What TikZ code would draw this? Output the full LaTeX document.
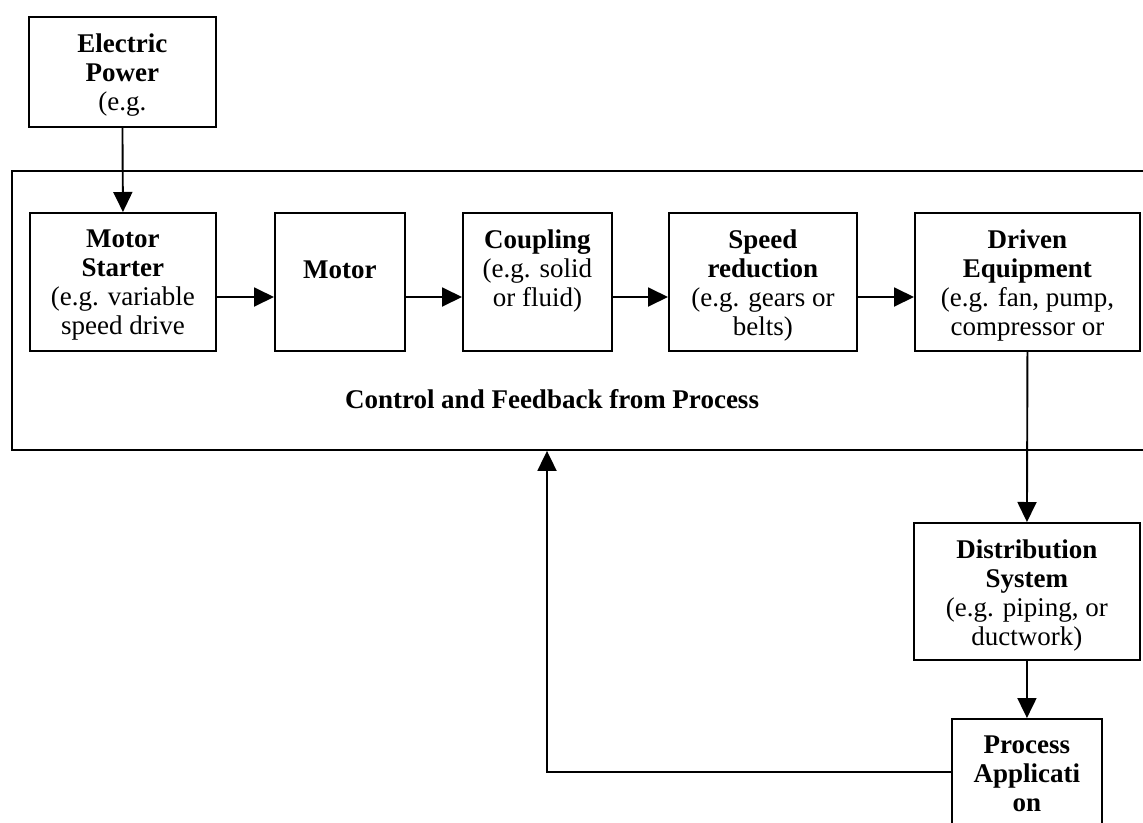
\documentclass[tikz,border=0pt]{standalone}
\usepackage{fontspec}
\setmainfont{Liberation Serif}
\usetikzlibrary{arrows.meta,calc}
\begin{document}
\begin{tikzpicture}[x=1pt,y=-1pt,
  box/.style={draw, line width=1.9pt, inner sep=0pt, anchor=north west},
  lbl/.style={align=center, inner sep=0pt, anchor=north, font=\fontsize{27}{29}\selectfont},
  arr/.style={line width=1.9pt, -{Triangle[length=20pt,width=19pt]}},
  ln/.style={line width=1.9pt}]
\useasboundingbox[fill=white] (0,0) rectangle (1143,822);
\clip (0,0) rectangle (1143,822);
% outer frame (open at right)
\node[box, minimum width=1200pt, minimum height=279pt] (frame) at (11,170) {};
% boxes
\node[box, minimum width=187pt, minimum height=110pt] (ep) at (28,16) {};
\node[box, minimum width=186pt, minimum height=138pt] (ms) at (29,212) {};
\node[box, minimum width=130pt, minimum height=138pt] (mo) at (274,212) {};
\node[box, minimum width=149pt, minimum height=138pt] (co) at (462,212) {};
\node[box, minimum width=188pt, minimum height=138pt] (sr) at (668,212) {};
\node[box, minimum width=225pt, minimum height=138pt] (de) at (914,212) {};
\node[box, minimum width=226pt, minimum height=137pt] (ds) at (913,522) {};
\node[box, minimum width=150pt, minimum height=200pt] (pa) at (951,718) {};
% labels
\node[lbl] (eptxt) at ($(ep.north)+(0,18)$) {\textbf{Electric}\\\textbf{Power}\\(e.g.};
\node[lbl] (mstxt) at ($(ms.north)+(0,18)$) {\textbf{Motor}\\\textbf{Starter}\\(e.g. variable\\speed drive};
\node[lbl] (motxt) at ($(mo.north)+(0,49)$) {\textbf{Motor}};
\node[lbl] (cotxt) at ($(co.north)+(0,18)$) {\textbf{Coupling}\\(e.g. solid\\or fluid)};
\node[lbl] (srtxt) at ($(sr.north)+(0,18)$) {\textbf{Speed}\\\textbf{reduction}\\(e.g. gears or\\belts)};
\node[lbl] (detxt) at ($(de.north)+(0,18)$) {\textbf{Driven}\\\textbf{Equipment}\\(e.g. fan, pump,\\compressor or};
\node[lbl] (dstxt) at ($(ds.north)+(0,18)$) {\textbf{Distribution}\\\textbf{System}\\(e.g. piping, or\\ductwork)};
\node[lbl] (patxt) at ($(pa.north)+(0,18)$) {\textbf{Process}\\\textbf{Applicati}\\\textbf{on}};
\node[lbl, anchor=base] (cf) at (552,408) {\textbf{Control and Feedback from Process}};
% connectors
\coordinate (yrow) at (0,297);
\draw[arr] (ep.south) -- (ms.north);
\draw[arr] (ms.east |- yrow) -- (mo.west |- yrow);
\draw[arr] (mo.east |- yrow) -- (co.west |- yrow);
\draw[arr] (co.east |- yrow) -- (sr.west |- yrow);
\draw[arr] (sr.east |- yrow) -- (de.west |- yrow);
\draw[arr] (de.south) -- (ds.north);
\draw[arr] (ds.south) -- (pa.north);
\coordinate (fbturn) at (547,772);
\draw[arr] (pa.west |- fbturn) -- (fbturn) -- (fbturn |- frame.south);
\end{tikzpicture}
\end{document}
